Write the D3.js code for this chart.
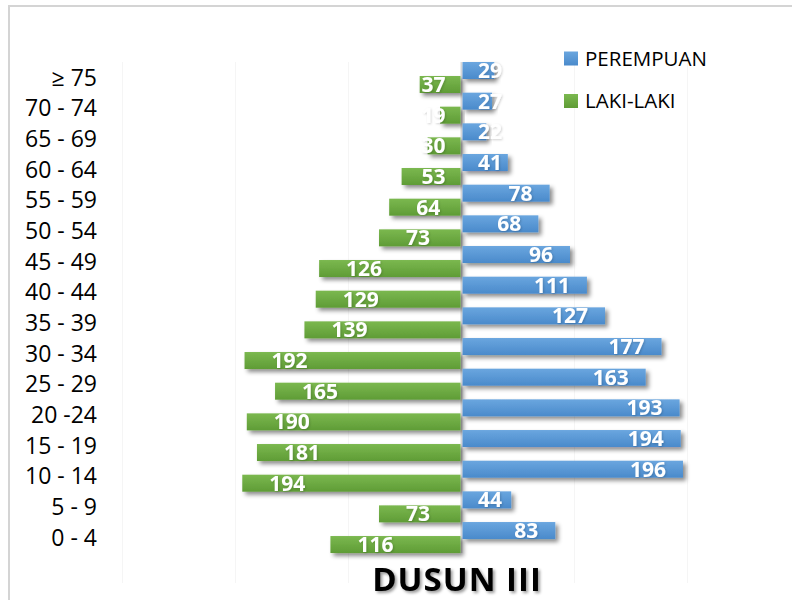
<!DOCTYPE html>
<html>
<head>
<meta charset="utf-8">
<script src="https://cdn.jsdelivr.net/npm/d3@7"></script>
<style>
  body { margin: 0; background: #fff; }
  svg { display: block; }
</style>
</head>
<body>
<svg id="chart" width="792" height="600"></svg>
<script>
// age groups, top to bottom
const categories = ["≥ 75", "70 - 74", "65 - 69", "60 - 64", "55 - 59", "50 - 54", "45 - 49",
  "40 - 44", "35 - 39", "30 - 34", "25 - 29", "20 -24", "15 - 19", "10 - 14", "5 - 9", "0 - 4"];
const perempuan = [29, 27, 22, 41, 78, 68, 96, 111, 127, 177, 163, 193, 194, 196, 44, 83];
const lakiLaki = [37, 19, 30, 53, 64, 73, 126, 129, 139, 192, 165, 190, 181, 194, 73, 116];
const seriesNames = ["PEREMPUAN", "LAKI-LAKI"];
const gridTicks = [-300, -200, -100, 100, 200, 300];
const title = "DUSUN III";

const svg = d3.select("#chart");
const W = 792, H = 600;

const x = d3.scaleLinear().domain([-300, 300]).range([122.5, 800.5]);
const y = d3.scaleBand().domain(categories).range([62, 552.7]).paddingInner(0);
const ySub = d3.scaleBand().domain(seriesNames).range([0, 28]);
const barH = ySub.bandwidth() + 3;

const color = { "PEREMPUAN": ["#6aa6df", "#4a8acb"], "LAKI-LAKI": ["#7bb84f", "#5f9c36"] };

const defs = svg.append("defs");
seriesNames.forEach((s, i) => {
  const g = defs.append("linearGradient").attr("id", "grad" + i)
    .attr("x1", 0).attr("y1", 0).attr("x2", 0).attr("y2", 1);
  g.append("stop").attr("offset", "0%").attr("stop-color", color[s][0]);
  g.append("stop").attr("offset", "100%").attr("stop-color", color[s][1]);
});
defs.append("filter").attr("id", "barShadow").attr("x", "-10%").attr("y", "-30%").attr("width", "130%").attr("height", "190%")
  .append("feDropShadow").attr("dx", 3).attr("dy", 3).attr("stdDeviation", 2)
  .attr("flood-color", "#000").attr("flood-opacity", 0.45);
defs.append("filter").attr("id", "textShadow").attr("x", "-20%").attr("y", "-30%").attr("width", "150%").attr("height", "170%")
  .append("feDropShadow").attr("dx", 1).attr("dy", 1).attr("stdDeviation", 0.8)
  .attr("flood-color", "#000").attr("flood-opacity", 0.18);
defs.append("filter").attr("id", "titleShadow").attr("x", "-10%").attr("y", "-30%").attr("width", "130%").attr("height", "170%")
  .append("feDropShadow").attr("dx", 2).attr("dy", 2).attr("stdDeviation", 1.5)
  .attr("flood-color", "#000").attr("flood-opacity", 0.4);

svg.append("rect").attr("width", W).attr("height", H).attr("fill", "#fff");

// chart border (runs off the right and bottom)
svg.append("rect")
  .attr("x", 9).attr("y", 6)
  .attr("width", 900).attr("height", 700)
  .attr("fill", "none").attr("stroke", "#d4d4d4").attr("stroke-width", 2);

// faint gridlines
svg.append("g").selectAll("line")
  .data(gridTicks)
  .join("line")
  .attr("x1", d => x(d)).attr("x2", d => x(d))
  .attr("y1", 62).attr("y2", 583)
  .attr("stroke", "#f5f5f5").attr("stroke-width", 1);

// zero axis
svg.append("line")
  .attr("x1", x(0)).attr("x2", x(0))
  .attr("y1", 62).attr("y2", 553)
  .attr("stroke", "#d9d9d9").attr("stroke-width", 2);

// category labels
svg.append("g").selectAll("text")
  .data(categories)
  .join("text")
  .attr("x", 97)
  .attr("y", d => y(d) + y.bandwidth() / 2)
  .attr("dy", "0.36em")
  .attr("text-anchor", "end")
  .attr("font-family", "Open Sans")
  .attr("font-size", 23)
  .attr("fill", "#000")
  .text(d => d);

const rows = categories.map((c, i) => ({ cat: c, p: perempuan[i], l: lakiLaki[i] }));

// bars
const bars = svg.append("g");
bars.selectAll("rect.laki")
  .data(rows)
  .join("rect")
  .attr("class", "laki")
  .attr("x", d => x(-d.l))
  .attr("y", d => y(d.cat) + ySub("LAKI-LAKI"))
  .attr("width", d => x(0) - x(-d.l) - 1)
  .attr("height", barH)
  .attr("fill", "url(#grad1)")
  .attr("filter", "url(#barShadow)");

bars.selectAll("rect.perempuan")
  .data(rows)
  .join("rect")
  .attr("class", "perempuan")
  .attr("x", x(0) + 1)
  .attr("y", d => y(d.cat) + ySub("PEREMPUAN"))
  .attr("width", d => x(d.p) - x(0) - 1)
  .attr("height", barH)
  .attr("fill", "url(#grad0)")
  .attr("filter", "url(#barShadow)");

// value labels
const lab = svg.append("g")
  .attr("font-family", "Open Sans")
  .attr("font-size", 21)
  .attr("font-weight", "bold")
  .attr("fill", "#fff")
  .attr("filter", "url(#textShadow)");

lab.selectAll("text.laki")
  .data(rows)
  .join("text")
  .attr("class", "laki")
  .attr("y", d => y(d.cat) + ySub("LAKI-LAKI") + barH - 1)
  .attr("text-anchor", "end")
  .text(d => d.l)
  .attr("x", function(d) {
    const w = this.getComputedTextLength();
    return Math.min(x(-d.l) + 27 + w, x(0) - 16);
  });

lab.selectAll("text.perempuan")
  .data(rows)
  .join("text")
  .attr("class", "perempuan")
  .attr("y", d => y(d.cat) + ySub("PEREMPUAN") + barH - 1)
  .attr("text-anchor", "start")
  .text(d => d.p)
  .attr("x", function(d) {
    const w = this.getComputedTextLength();
    return Math.max(x(d.p) - 17 - w, x(0) + 16.5);
  });

// legend
const legend = svg.append("g");
const legendItems = [
  { name: "PEREMPUAN", grad: "url(#grad0)", y: 58.5 },
  { name: "LAKI-LAKI", grad: "url(#grad1)", y: 101 }
];
legend.selectAll("rect")
  .data(legendItems)
  .join("rect")
  .attr("x", 564).attr("y", d => d.y - 7)
  .attr("width", 14).attr("height", 14)
  .attr("fill", d => d.grad);
legend.selectAll("text")
  .data(legendItems)
  .join("text")
  .attr("x", 585).attr("y", d => d.y)
  .attr("dy", "0.36em")
  .attr("font-family", "Open Sans")
  .attr("font-size", 20.5)
  .attr("fill", "#000")
  .text(d => d.name);

// title
svg.append("text")
  .attr("x", 457).attr("y", 591)
  .attr("text-anchor", "middle")
  .attr("font-family", "Open Sans")
  .attr("font-weight", "bold")
  .attr("font-size", 33)
  .attr("letter-spacing", 1)
  .attr("fill", "#000")
  .attr("filter", "url(#titleShadow)")
  .text(title);
</script>
</body>
</html>
